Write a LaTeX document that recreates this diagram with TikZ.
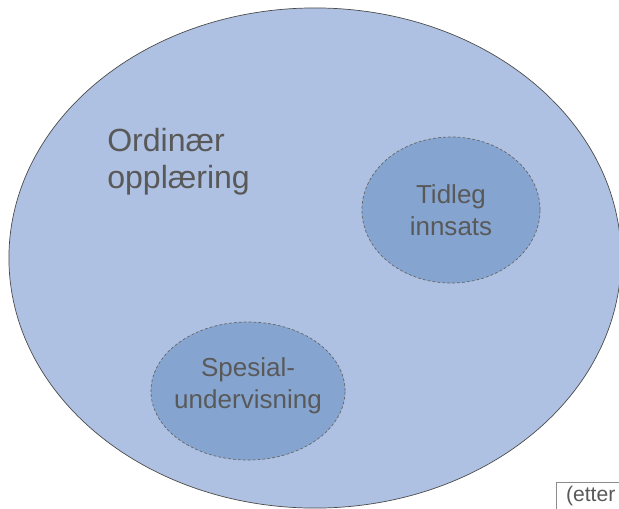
\documentclass[tikz,border=0pt]{standalone}
\usepackage{fontspec}
\setmainfont{Liberation Sans}
\usetikzlibrary{positioning, shapes.geometric}

\definecolor{outerblue}{RGB}{174,193,226}
\definecolor{innerblue}{RGB}{133,165,208}
\definecolor{textgray}{RGB}{89,89,89}

\begin{document}
\begin{tikzpicture} [x=0.025cm, y=-0.025cm]
    \tikzset{
      whole/.style={draw=black!70, fill=outerblue, ellipse, inner sep=0pt, line width=0.5pt},
      part/.style={draw=black!60, fill=innerblue, ellipse, inner sep=0pt, dashed, dash pattern=on 2pt off 1.5pt, line width=0.5pt},
      partlabel/.style={text=textgray, align=center, inner sep=0pt, font=\fontsize{18.5}{22.8}\selectfont},
      source/.style={draw=black!45, rectangle, anchor=north west, inner xsep=7pt, inner ysep=3pt, text width=2.5cm, align=left, text=textgray, font=\fontsize{15}{18}\selectfont}
    }
    \useasboundingbox (0,0) rectangle (619,508);

    \node[whole, minimum width=15.3cm, minimum height=12.5cm] (ordinary) at (315,258) {};
    \node[text=textgray, align=left, anchor=north west, inner sep=0pt, font=\fontsize{22.8}{26.3}\selectfont] (ordlabel) at (107,128) {Ordinær\\opplæring};

    \node[part, minimum width=4.45cm, minimum height=3.65cm] (early) at (451,210) {};
    \node[partlabel] (earlylabel) at (early) {Tidleg\\innsats};
    \node[part, minimum width=4.85cm, minimum height=3.45cm] (special) at (248,391) {};
    \node[partlabel] (speciallabel) at ([yshift=4pt]special.center) {Spesial-\\undervisning};

    \node[source] (after) at (556,482) {(etter};
\end{tikzpicture}
\end{document}
